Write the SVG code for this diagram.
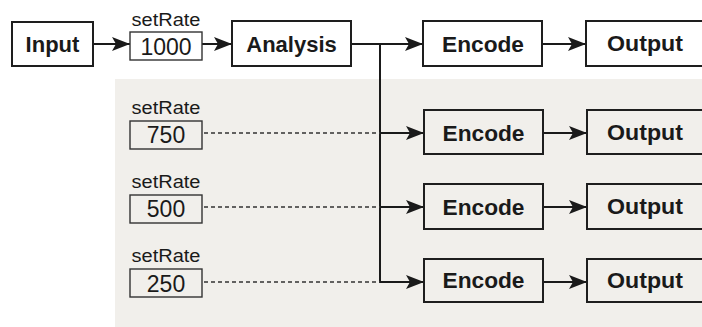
<svg xmlns="http://www.w3.org/2000/svg" width="702" height="327" viewBox="0 0 702 327">
<defs>
<style>
.box{fill:#ffffff;stroke:#1e1e1e;stroke-width:2}
.gbox{fill:none;stroke:#1e1e1e;stroke-width:2}
.rbox{fill:none;stroke:#333;stroke-width:1.4}
.lbl{font-family:"Liberation Sans",Arial,sans-serif;font-weight:bold;font-size:22px;fill:#1a1a1a;text-anchor:middle}
.val{font-family:"Liberation Sans",Arial,sans-serif;font-size:23px;fill:#1a1a1a;text-anchor:middle}
.sr{font-family:"Liberation Sans",Arial,sans-serif;font-size:17.5px;fill:#1a1a1a;text-anchor:middle}
.ln{fill:none;stroke:#1a1a1a;stroke-width:2}
.dl{fill:none;stroke:#333;stroke-width:1.3;stroke-dasharray:4 3}
</style>
<marker id="ah" markerWidth="19" markerHeight="16" refX="18" refY="8" orient="auto" markerUnits="userSpaceOnUse">
<path d="M0,1 L18,8 L0,15 L4,8 Z" fill="#1a1a1a"/>
</marker>
</defs>
<rect x="0" y="0" width="702" height="327" fill="#ffffff"/>
<rect x="115" y="79" width="587" height="248" fill="#f1efeb"/>

<g id="connectors">
<line class="ln" x1="93" y1="44" x2="130" y2="44" marker-end="url(#ah)"/>
<line class="ln" x1="202" y1="44" x2="232" y2="44" marker-end="url(#ah)"/>
<line class="ln" x1="351" y1="44" x2="423" y2="44" marker-end="url(#ah)"/>
<line class="ln" x1="380" y1="44" x2="380" y2="283"/>
<line class="ln" x1="379" y1="133" x2="424" y2="133" marker-end="url(#ah)"/>
<line class="ln" x1="379" y1="207" x2="424" y2="207" marker-end="url(#ah)"/>
<line class="ln" x1="379" y1="282" x2="424" y2="282" marker-end="url(#ah)"/>
<line class="ln" x1="542" y1="44" x2="586" y2="44" marker-end="url(#ah)"/>
<line class="ln" x1="543" y1="133" x2="587" y2="133" marker-end="url(#ah)"/>
<line class="ln" x1="543" y1="207" x2="587" y2="207" marker-end="url(#ah)"/>
<line class="ln" x1="543" y1="282" x2="587" y2="282" marker-end="url(#ah)"/>
<line class="dl" x1="204" y1="133" x2="380" y2="133"/>
<line class="dl" x1="204" y1="207" x2="380" y2="207"/>
<line class="dl" x1="204" y1="282" x2="380" y2="282"/>
</g>

<g id="input">
<rect class="box" x="12" y="22" width="81" height="44"/>
<text class="lbl" x="52.5" y="51.5" font-size="23">Input</text>
</g>
<g id="rate1000">
<text class="sr" x="166" y="26" textLength="69" lengthAdjust="spacingAndGlyphs">setRate</text>
<rect class="rbox" x="130" y="32" width="72" height="28"/>
<text class="val" x="166" y="54.5">1000</text>
</g>
<g id="analysis">
<rect class="box" x="232" y="21" width="119" height="45"/>
<text class="lbl" x="291.5" y="51.5">Analysis</text>
</g>
<g id="encode1">
<rect class="box" x="423" y="21" width="119" height="45"/>
<text class="lbl" x="483" y="51.5" textLength="82" lengthAdjust="spacingAndGlyphs">Encode</text>
</g>
<g id="output1">
<rect class="box" x="586" y="21" width="130" height="45"/>
<text class="lbl" x="645" y="51" textLength="76" lengthAdjust="spacingAndGlyphs">Output</text>
</g>

<g id="rate750">
<text class="sr" x="166" y="113.5" textLength="69" lengthAdjust="spacingAndGlyphs">setRate</text>
<rect class="rbox" x="130" y="121" width="72" height="28"/>
<text class="val" x="166" y="143">750</text>
</g>
<g id="rate500">
<text class="sr" x="166" y="187.5" textLength="69" lengthAdjust="spacingAndGlyphs">setRate</text>
<rect class="rbox" x="130" y="195" width="72" height="28"/>
<text class="val" x="166" y="217">500</text>
</g>
<g id="rate250">
<text class="sr" x="166" y="261.5" textLength="69" lengthAdjust="spacingAndGlyphs">setRate</text>
<rect class="rbox" x="130" y="269" width="72" height="28"/>
<text class="val" x="166" y="291.5">250</text>
</g>

<g id="encode2">
<rect class="gbox" x="424" y="110" width="119" height="44"/>
<text class="lbl" x="483.5" y="140.5" textLength="82" lengthAdjust="spacingAndGlyphs">Encode</text>
</g>
<g id="output2">
<rect class="gbox" x="587" y="110" width="130" height="44"/>
<text class="lbl" x="645" y="139.5" textLength="76" lengthAdjust="spacingAndGlyphs">Output</text>
</g>
<g id="encode3">
<rect class="gbox" x="424" y="184" width="119" height="45"/>
<text class="lbl" x="483.5" y="214.5" textLength="82" lengthAdjust="spacingAndGlyphs">Encode</text>
</g>
<g id="output3">
<rect class="gbox" x="587" y="184" width="130" height="45"/>
<text class="lbl" x="645" y="213.5" textLength="76" lengthAdjust="spacingAndGlyphs">Output</text>
</g>
<g id="encode4">
<rect class="gbox" x="424" y="259" width="119" height="43"/>
<text class="lbl" x="483.5" y="288" textLength="82" lengthAdjust="spacingAndGlyphs">Encode</text>
</g>
<g id="output4">
<rect class="gbox" x="587" y="259" width="130" height="43"/>
<text class="lbl" x="645" y="287.5" textLength="76" lengthAdjust="spacingAndGlyphs">Output</text>
</g>
</svg>
